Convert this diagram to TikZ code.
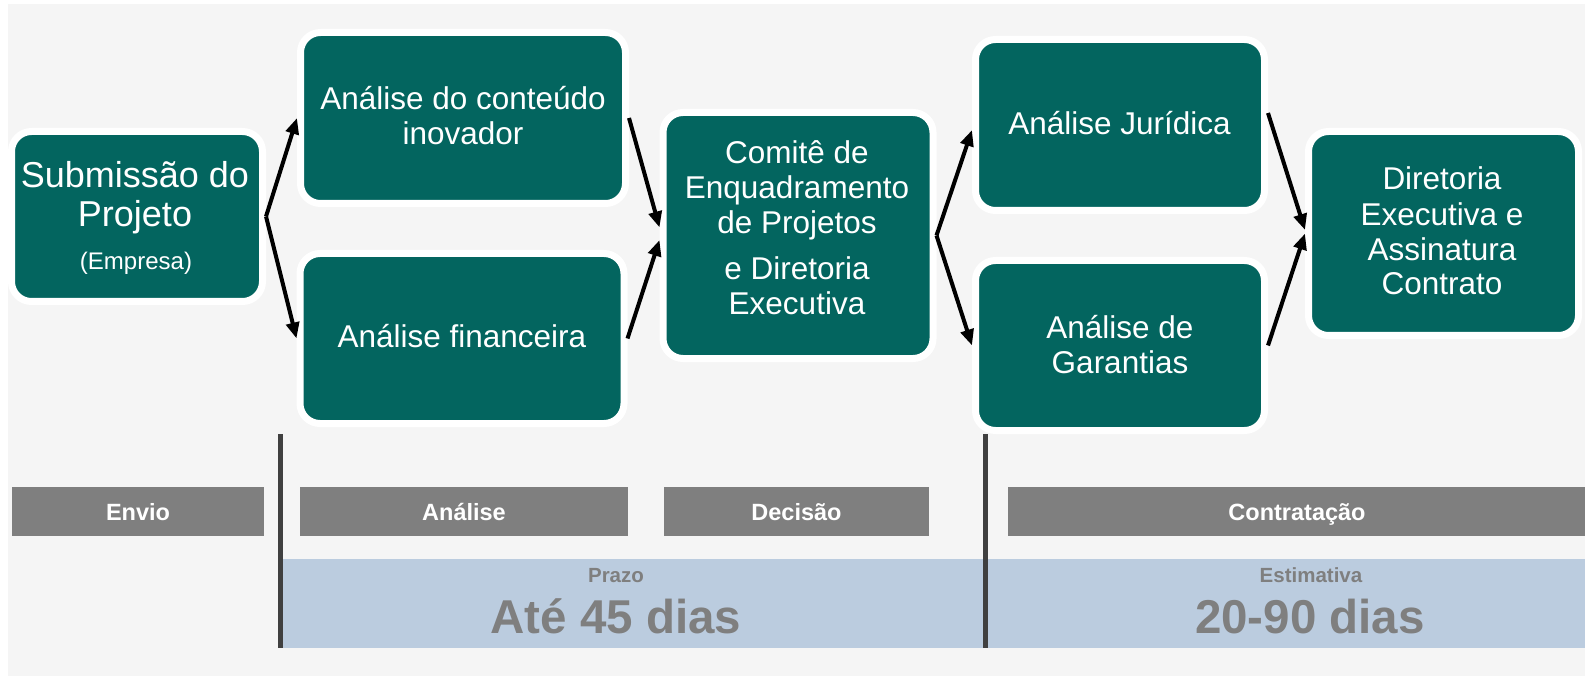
\documentclass[tikz,border=0pt]{standalone}
\usepackage{fontspec}
\setmainfont{Liberation Sans}
\usetikzlibrary{arrows.meta}
\definecolor{boxgreen}{HTML}{03655F}
\definecolor{bargray}{HTML}{7F7F7F}
\definecolor{bandblue}{HTML}{BBCCDF}
\definecolor{sepgray}{HTML}{404040}
\definecolor{bggray}{HTML}{F5F5F5}

\begin{document}
\begin{tikzpicture}[x=1pt,y=-1pt,
    box/.style 2 args={draw=white, line width=7pt, fill=boxgreen, rounded corners=20pt,
        minimum width=#1pt, minimum height=#2pt, inner sep=0pt},
    txt/.style={text=white, font=\fontsize{31.5}{35}\selectfont, align=center, anchor=base, inner sep=0pt},
    bar/.style={fill=bargray, text=white, font=\bfseries\fontsize{23.5}{26}\selectfont,
        minimum height=49pt, text height=17pt, text depth=0pt, inner sep=0pt},
    band/.style={text=bargray, font=\bfseries, anchor=base, inner sep=0pt},
    flow/.style={-{Triangle[length=16pt,width=13pt]}, line width=4pt},
    sep/.style={sepgray, line width=5pt}]
            \fill[white] (0,0) rectangle (1585,676);
            \fill[bggray] (8,4) rectangle (1585,676);
            \useasboundingbox (0,0) rectangle (1585,676);
            % boxes
            \node[box={251}{170}] (A) at (137,216.5) {};
            \node[box={325}{171}] (B) at (463,118) {};
            \node[box={324}{170}] (C) at (462,338.5) {};
            \node[box={270}{246}] (D) at (798,235.5) {};
            \node[box={289}{171}] (E) at (1120,125) {};
            \node[box={289}{170}] (F) at (1120,345.5) {};
            \node[box={270}{204}] (G) at (1443.5,233.5) {};
            % texts in the boxes (base = last line)
            \node[txt, font=\fontsize{36}{39}\selectfont] (tA) at (135,227) {Submissão do\\Projeto};
            \node[txt, font=\fontsize{24}{28}\selectfont] (tA2) at (136,270) {(Empresa)};
            \node[txt] (tB) at (463,145) {Análise do conteúdo\\inovador};
            \node[txt] (tC) at (462,348) {Análise financeira};
            \node[txt] (tD) at (797,315) {Comitê de\\Enquadramento\\de Projetos\\[11.5pt]e Diretoria\\Executiva};
            \node[txt] (tE) at (1119.5,135) {Análise Jurídica};
            \node[txt] (tF) at (1120,373) {Análise de\\Garantias};
            \node[txt] (tG) at (1442,295) {Diretoria\\Executiva e\\Assinatura\\Contrato};
            % arrows
            \draw[flow] (A.east) to (B.west);
            \draw[flow] (A.east) to (C.west);
            \draw[flow] (B.east) to ([yshift=8pt]D.west);
            \draw[flow] (C.east) to ([yshift=-4.5pt]D.west);
            \draw[flow] (D.east) to ([yshift=-5pt]E.west);
            \draw[flow] (D.east) to (F.west);
            \draw[flow] ([yshift=12pt]E.east) to ([yshift=3.5pt]G.west);
            \draw[flow] (F.east) to (G.west);
            % phases
            \fill[bandblue] (280,559) rectangle (1585,648);
            \node[bar, minimum width=252pt] (P1) at (138,511.5) {Envio};
            \node[bar, minimum width=328pt] (P2) at (464,511.5) {Análise};
            \node[bar, minimum width=265pt] (P3) at (796.5,511.5) {Decisão};
            \node[bar, minimum width=578pt] (P4) at (1297,511.5) {Contratação};
            \draw[sep] (280.5,434) -- (280.5,648);
            \draw[sep] (985.5,434) -- (985.5,648);
            % deadlines
            \node[band, font=\bfseries\fontsize{20.5}{24}\selectfont] (Q1) at (616,582) {Prazo};
            \node[band, font=\bfseries\fontsize{47.5}{52}\selectfont] (R1) at (616,633) {Até 45 dias};
            \node[band, font=\bfseries\fontsize{20.5}{24}\selectfont] (Q2) at (1311,582) {Estimativa};
            \node[band, font=\bfseries\fontsize{47.5}{52}\selectfont] (R2) at (1310,633) {20-90 dias};
        \end{tikzpicture}
\end{document}
